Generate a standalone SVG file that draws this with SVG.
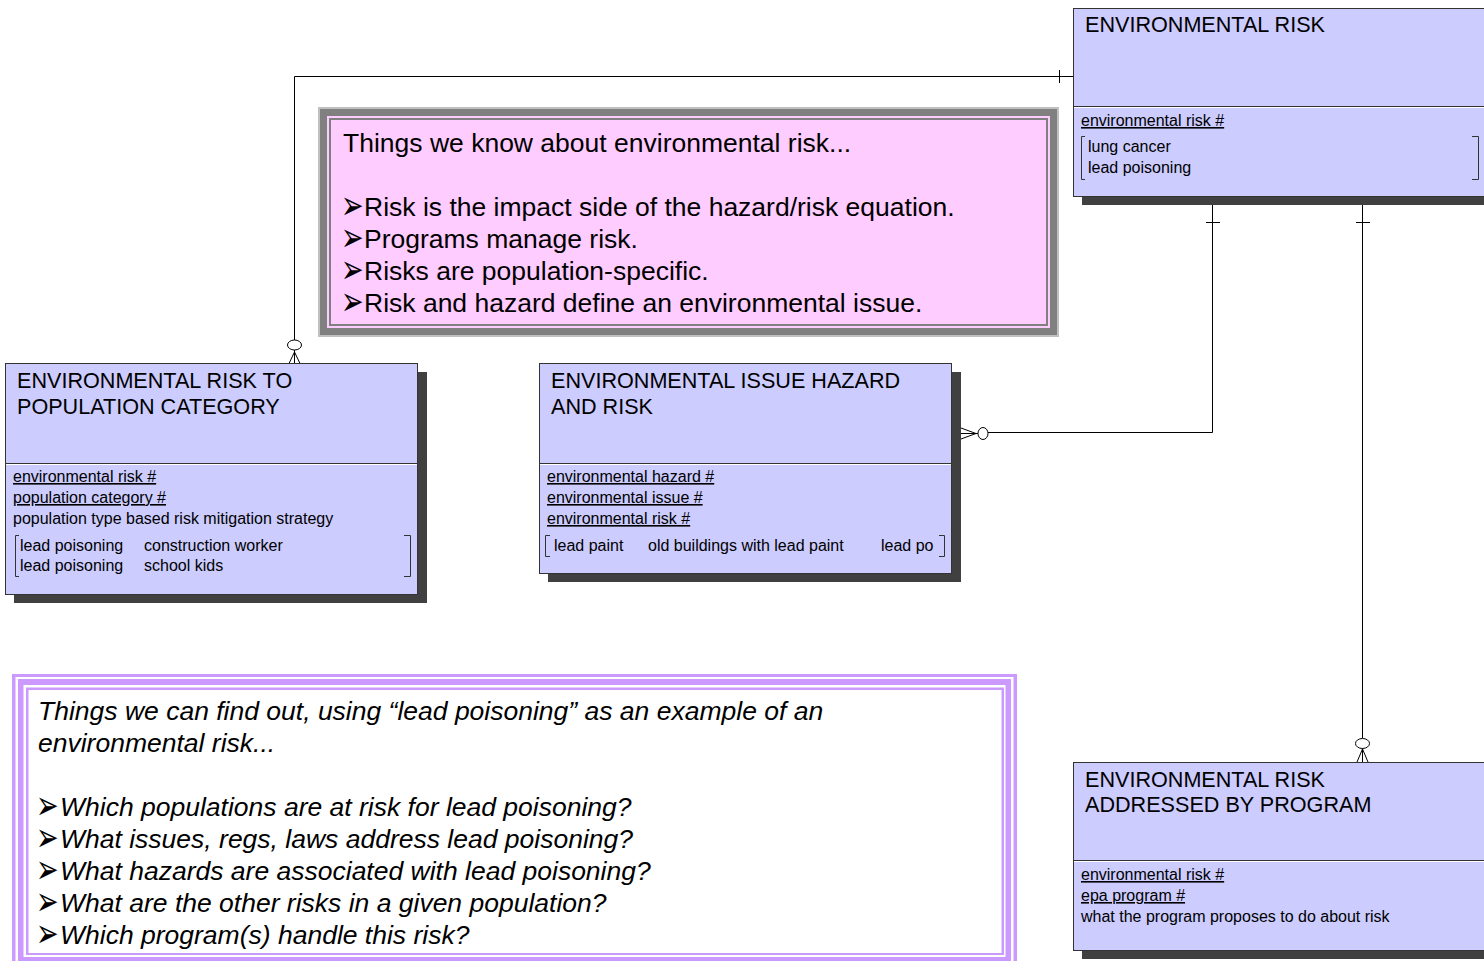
<svg xmlns="http://www.w3.org/2000/svg" width="1484" height="961" viewBox="0 0 1484 961">
<defs>
<style>
.ent{fill:#ccccff;stroke:#333333;stroke-width:1}
.sh{fill:#404040}
.dv{stroke:#333333;stroke-width:1}
.dvw{stroke:#ffffff;stroke-width:1}
.t{font-family:"Liberation Sans",Arial,sans-serif;font-size:21.6px;fill:#000}
.a{font-family:"Liberation Sans",Arial,sans-serif;font-size:16px;fill:#000}
.k{text-decoration:underline}
.br{fill:none;stroke:#333333;stroke-width:1}
.ln{fill:none;stroke:#000;stroke-width:1}
.cir{fill:#fff;stroke:#000;stroke-width:1}
.n1{font-family:"Liberation Sans",Arial,sans-serif;font-size:26.5px;fill:#000}
.n2{font-family:"Liberation Sans",Arial,sans-serif;font-size:26.5px;font-style:italic;fill:#000}
.bu{font-family:"DejaVu Sans",sans-serif;font-size:27px;fill:#000}
</style>
</defs>
<rect width="1484" height="961" fill="#ffffff"/>

<g id="note-know">
<rect x="318" y="107" width="741" height="230" fill="#c0c0c0"/>
<rect x="320" y="109" width="737" height="226" fill="#808080"/>
<rect x="327" y="116" width="723" height="212" fill="#ffccff"/>
<rect x="329" y="118" width="719" height="208" fill="#808080"/>
<rect x="331" y="120" width="715" height="204" fill="#ffccff"/>
<text class="n1" x="343" y="152">Things we know about environmental risk...</text>
<text class="bu" transform="translate(341,219) scale(1,1.5)">➢</text><text class="n1" x="364" y="216">Risk is the impact side of the hazard/risk equation.</text>
<text class="bu" transform="translate(341,251) scale(1,1.5)">➢</text><text class="n1" x="364" y="248">Programs manage risk.</text>
<text class="bu" transform="translate(341,283) scale(1,1.5)">➢</text><text class="n1" x="364" y="280">Risks are population-specific.</text>
<text class="bu" transform="translate(341,315) scale(1,1.5)">➢</text><text class="n1" x="364" y="312">Risk and hazard define an environmental issue.</text>
</g>

<g id="note-find">
<rect x="12" y="674" width="1005" height="294" fill="#cc99ff"/>
<rect x="15.5" y="677" width="998" height="288" fill="#ffffff"/>
<rect x="18" y="679" width="993" height="283" fill="#cc99ff"/>
<rect x="23.5" y="685" width="982" height="272" fill="#ffffff"/>
<rect x="26" y="687.5" width="978" height="267.5" fill="#cc99ff"/>
<rect x="28.5" y="690" width="973" height="263" fill="#ffffff"/>
<text class="n2" x="38" y="720">Things we can find out, using “lead poisoning” as an example of an</text>
<text class="n2" x="38" y="752">environmental risk...</text>
<text class="bu" transform="translate(36,819) scale(1,1.5)">➢</text><text class="n2" x="60" y="816">Which populations are at risk for lead poisoning?</text>
<text class="bu" transform="translate(36,851) scale(1,1.5)">➢</text><text class="n2" x="60" y="848">What issues, regs, laws address lead poisoning?</text>
<text class="bu" transform="translate(36,883) scale(1,1.5)">➢</text><text class="n2" x="60" y="880">What hazards are associated with lead poisoning?</text>
<text class="bu" transform="translate(36,915) scale(1,1.5)">➢</text><text class="n2" x="60" y="912">What are the other risks in a given population?</text>
<text class="bu" transform="translate(36,947) scale(1,1.5)">➢</text><text class="n2" x="60" y="944">Which program(s) handle this risk?</text>
</g>

<g id="connectors">
<path class="ln" d="M1073,76.5 H294.5 V350"/>
<line class="ln" x1="1059.5" y1="70" x2="1059.5" y2="83"/>
<ellipse class="cir" cx="294.5" cy="345" rx="7" ry="5"/>
<path class="ln" d="M294.5,350 V363.5 M294.5,352 L289,363.5 M294.5,352 L300,363.5"/>

<path class="ln" d="M1212.5,204 V432.5 H988"/>
<line class="ln" x1="1206" y1="222.5" x2="1220" y2="222.5"/>
<ellipse class="cir" cx="983" cy="433.5" rx="5" ry="6"/>
<path class="ln" d="M978,433.5 H961 M976,433.5 L961,428 M976,433.5 L961,439"/>

<path class="ln" d="M1362.5,204 V738"/>
<line class="ln" x1="1356" y1="222.5" x2="1370" y2="222.5"/>
<ellipse class="cir" cx="1362.5" cy="743.5" rx="7" ry="5"/>
<path class="ln" d="M1362.5,748.5 V762 M1362.5,749 L1357,762 M1362.5,749 L1368,762"/>
</g>

<g id="entity-risk">
<rect class="sh" x="1082" y="17" width="420" height="188"/>
<rect class="ent" x="1073.5" y="8.5" width="420" height="188"/>
<line class="dv" x1="1074" y1="106.5" x2="1494" y2="106.5"/>
<line class="dvw" x1="1074" y1="107.5" x2="1494" y2="107.5"/>
<text class="t" x="1085" y="32">ENVIRONMENTAL RISK</text>
<text class="a k" x="1081" y="126">environmental risk #</text>
<path class="br" d="M1085,136.5 H1081.5 V179.5 H1085"/>
<path class="br" d="M1472,136.5 H1478.5 V179.5 H1472"/>
<text class="a" x="1088" y="152">lung cancer</text>
<text class="a" x="1088" y="173">lead poisoning</text>
</g>

<g id="entity-risk-population">
<rect class="sh" x="14" y="372" width="413" height="231"/>
<rect class="ent" x="5.5" y="363.5" width="412" height="231"/>
<line class="dv" x1="6" y1="463.5" x2="417" y2="463.5"/>
<line class="dvw" x1="6" y1="464.5" x2="417" y2="464.5"/>
<text class="t" x="17" y="388">ENVIRONMENTAL RISK TO</text>
<text class="t" x="17" y="414">POPULATION CATEGORY</text>
<text class="a k" x="13" y="482">environmental risk #</text>
<text class="a k" x="13" y="503">population category #</text>
<text class="a" x="13" y="524">population type based risk mitigation strategy</text>
<path class="br" d="M19,535.5 H15.5 V576.5 H19"/>
<path class="br" d="M404,535.5 H410.5 V576.5 H404"/>
<text class="a" x="20" y="551">lead poisoning</text>
<text class="a" x="144" y="551">construction worker</text>
<text class="a" x="20" y="571">lead poisoning</text>
<text class="a" x="144" y="571">school kids</text>
</g>

<g id="entity-issue-hazard-risk">
<rect class="sh" x="548" y="372" width="413" height="210"/>
<rect class="ent" x="539.5" y="363.5" width="412" height="210"/>
<line class="dv" x1="540" y1="463.5" x2="951" y2="463.5"/>
<line class="dvw" x1="540" y1="464.5" x2="951" y2="464.5"/>
<text class="t" x="551" y="388">ENVIRONMENTAL ISSUE HAZARD</text>
<text class="t" x="551" y="414">AND RISK</text>
<text class="a k" x="547" y="482">environmental hazard #</text>
<text class="a k" x="547" y="503">environmental issue #</text>
<text class="a k" x="547" y="524">environmental risk #</text>
<path class="br" d="M550,535.5 H545.5 V556.5 H550"/>
<path class="br" d="M939,535.5 H944.5 V556.5 H939"/>
<text class="a" x="554" y="551">lead paint</text>
<text class="a" x="648" y="551">old buildings with lead paint</text>
<text class="a" x="881" y="551">lead po</text>
</g>

<g id="entity-risk-program">
<rect class="sh" x="1082" y="771" width="420" height="188"/>
<rect class="ent" x="1073.5" y="762.5" width="420" height="188"/>
<line class="dv" x1="1074" y1="860.5" x2="1494" y2="860.5"/>
<line class="dvw" x1="1074" y1="861.5" x2="1494" y2="861.5"/>
<text class="t" x="1085" y="787">ENVIRONMENTAL RISK</text>
<text class="t" x="1085" y="812">ADDRESSED BY PROGRAM</text>
<text class="a k" x="1081" y="880">environmental risk #</text>
<text class="a k" x="1081" y="901">epa program #</text>
<text class="a" x="1081" y="922">what the program proposes to do about risk</text>
</g>
</svg>
